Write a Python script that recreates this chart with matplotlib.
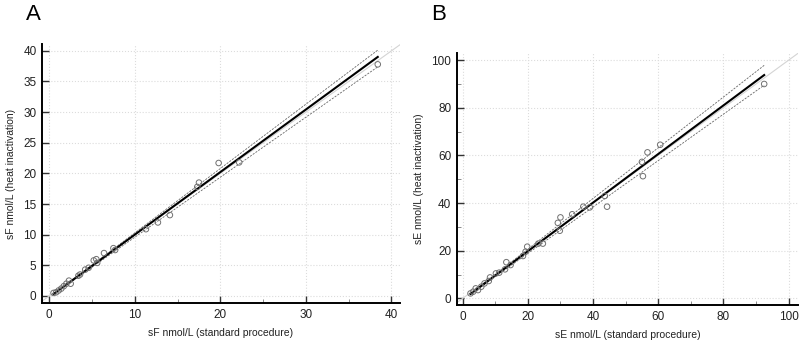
import matplotlib
matplotlib.use("Agg")
import matplotlib.pyplot as plt
import numpy as np
from matplotlib.ticker import MultipleLocator, NullLocator

plt.rcParams['font.family'] = ['Liberation Sans', 'DejaVu Sans']

# Panel A: sF, standard procedure vs heat inactivation
sf_std = [0.5, 0.8, 1.1, 1.4, 1.7, 2.0, 2.3, 2.5, 3.4, 3.6, 4.2, 4.6, 5.2, 5.5, 5.6,
          6.4, 7.5, 7.7, 11.3, 12.7, 14.1, 17.3, 17.5, 19.8, 22.2, 38.4]
sf_heat = [0.5, 0.6, 0.9, 1.2, 1.6, 2.0, 2.5, 2.0, 3.3, 3.5, 4.3, 4.6, 5.8, 6.0, 5.4,
           7.0, 7.8, 7.5, 10.9, 12.0, 13.2, 17.8, 18.5, 21.7, 21.8, 37.8]
# fitted line and confidence band (slope, intercept)
fit_a = (1.021, -0.2)
band_a_hi = (1.050, -0.2)
band_a_lo = (0.979, -0.2)

# Panel B: sE
se_std = [2.4, 3.2, 4.0, 4.7, 5.7, 6.7, 8.0, 8.4, 10.2, 11.2, 13.0, 13.4, 14.7, 18.5,
          19.3, 19.8, 23.2, 24.6, 29.2, 30.0, 29.8, 33.6, 37.0, 39.0, 43.6, 44.3,
          55.0, 55.3, 56.7, 60.6, 92.5]
se_heat = [2.1, 2.8, 4.2, 3.5, 4.9, 6.3, 7.3, 8.8, 10.5, 10.8, 12.2, 15.2, 14.0, 17.8,
           19.6, 21.7, 23.0, 23.0, 31.7, 34.0, 28.4, 35.3, 38.5, 38.2, 43.0, 38.5,
           57.3, 51.3, 61.3, 64.5, 90.0]
fit_b = (1.020, -0.6)
band_b_hi = (1.064, -0.6)
band_b_lo = (0.974, -0.6)

fig = plt.figure(figsize=(8, 3.42), dpi=100)
ax1 = fig.add_axes([0.0525, 0.114, 0.4475, 0.757])
ax2 = fig.add_axes([0.571, 0.108, 0.427, 0.737])


def draw(ax, x, y, fit, hi, lo, xlim, ylim, xmaj, ymaj, xlabel, ylabel):
    x = np.array(x)
    y = np.array(y)
    ax.axline((0, 0), slope=1, color='#d4d4d4', lw=0.8, zorder=1)
    xs = np.array([x.min(), x.max()])
    ax.plot(xs, hi[0] * xs + hi[1], color='#666666', lw=0.6, ls=(0, (2.5, 1.5)), zorder=2)
    ax.plot(xs, lo[0] * xs + lo[1], color='#666666', lw=0.6, ls=(0, (2.5, 1.5)), zorder=2)
    ax.plot(xs, fit[0] * xs + fit[1], color='black', lw=1.5, zorder=3)
    ax.scatter(x, y, s=16, facecolors='none', edgecolors='#707070', linewidths=0.7, zorder=4)
    ax.set_xlim(xlim)
    ax.set_ylim(ylim)
    ax.xaxis.set_major_locator(MultipleLocator(xmaj))
    ax.yaxis.set_major_locator(MultipleLocator(ymaj))
    ax.grid(True, which='major', color='#dcdcdc', ls=':', lw=0.8)
    ax.set_axisbelow(True)
    for s in ['top', 'right']:
        ax.spines[s].set_visible(False)
    for s in ['left', 'bottom']:
        ax.spines[s].set_linewidth(1.4)
    ax.tick_params(which='both', direction='in', labelsize=8.5, colors='#333333',
                   labelcolor='#222222')
    ax.tick_params(which='major', length=5, width=1.0, pad=4)
    ax.tick_params(which='minor', length=3, width=0.6, color='#777777')
    ax.set_xlabel(xlabel, fontsize=7.5, color='#222222', labelpad=5)
    ax.set_ylabel(ylabel, fontsize=7.5, color='#222222', labelpad=5)


draw(ax1, sf_std, sf_heat, fit_a, band_a_hi, band_a_lo, (-0.85, 41), (-1.15, 41.1), 10, 5,
     'sF nmol/L (standard procedure)', 'sF nmol/L (heat inactivation)')
ax1.xaxis.set_minor_locator(MultipleLocator(5))
ax1.yaxis.set_minor_locator(NullLocator())

draw(ax2, se_std, se_heat, fit_b, band_b_hi, band_b_lo, (-1.8, 103), (-2.8, 103), 20, 20,
     'sE nmol/L (standard procedure)', 'sE nmol/L (heat inactivation)')
ax2.xaxis.set_minor_locator(MultipleLocator(10))
ax2.yaxis.set_minor_locator(MultipleLocator(10))

fig.text(0.033, 0.9415, 'A', fontsize=16)
fig.text(0.539, 0.9415, 'B', fontsize=16)

fig.savefig('out.png', dpi=100)
